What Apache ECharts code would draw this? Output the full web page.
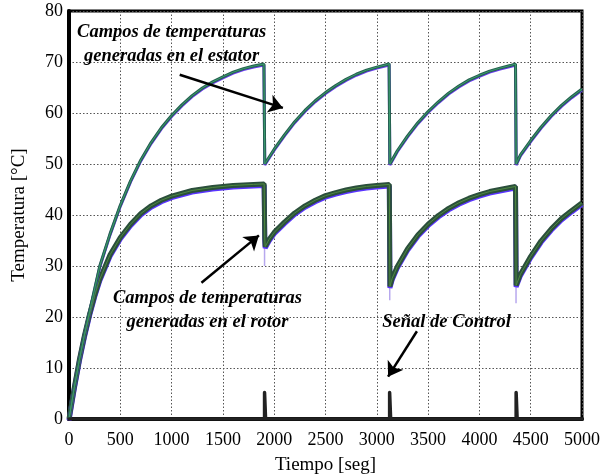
<!DOCTYPE html>
<html>
<head>
<meta charset="utf-8">
<script src="https://cdn.jsdelivr.net/npm/echarts@6/dist/echarts.min.js"></script>
<style>
html,body{margin:0;padding:0;background:#fff;}
#chart{width:600px;height:475px;}
</style>
</head>
<body>
<div id="chart"></div>
<script>
// ---- Data ----
const xTicks = [0, 500, 1000, 1500, 2000, 2500, 3000, 3500, 4000, 4500, 5000];
const yTicks = [0, 10, 20, 30, 40, 50, 60, 70, 80];

// Stator temperature (°C) vs time (s)
const statorTime = [0, 50, 100, 150, 200, 300, 400, 500, 600, 700, 800, 900, 1000, 1100, 1200, 1300, 1400, 1500, 1600, 1700, 1800, 1900,
  1908, 1915, 2000, 2100, 2200, 2300, 2400, 2500, 2600, 2700, 2800, 2900, 3000, 3100, 3120,
  3127, 3134, 3200, 3300, 3400, 3500, 3600, 3700, 3800, 3900, 4000, 4100, 4200, 4300, 4352,
  4358, 4364, 4400, 4500, 4600, 4700, 4800, 4900, 5000];
const statorTemp = [0, 6.0, 11.5, 16.5, 21.0, 30.0, 36.3, 41.9, 46.7, 50.8, 54.2, 57.1, 59.5, 61.6, 63.4, 64.9, 66.1, 67.1, 68.0, 68.7, 69.2, 69.6,
  50.0, 50.3, 52.9, 55.7, 58.3, 60.5, 62.4, 64.0, 65.4, 66.6, 67.6, 68.4, 69.0, 69.5, 69.7,
  50.0, 50.3, 52.6, 55.5, 58.1, 60.3, 62.2, 63.9, 65.3, 66.5, 67.4, 68.2, 68.8, 69.3, 69.6,
  50.0, 50.3, 51.8, 54.6, 57.2, 59.5, 61.5, 63.2, 64.7];

// Rotor temperature (°C) vs time (s)
const rotorTime = [0, 50, 100, 150, 200, 250, 300, 400, 500, 600, 700, 800, 900, 1000, 1200, 1400, 1600, 1800, 1902,
  1908, 1912, 1950, 2000, 2100, 2200, 2300, 2400, 2500, 2600, 2700, 2800, 2900, 3000, 3122,
  3128, 3150, 3200, 3300, 3400, 3500, 3600, 3700, 3800, 3900, 4000, 4100, 4200, 4300, 4352,
  4358, 4400, 4500, 4600, 4700, 4800, 4900, 5000];
const rotorTemp = [0, 6.0, 11.5, 16.3, 20.5, 24.2, 27.4, 32.2, 35.6, 38.2, 40.3, 41.8, 42.9, 43.7, 44.8, 45.4, 45.8, 46.0, 46.1,
  35.5, 33.8, 35.2, 36.6, 38.6, 40.4, 41.8, 42.9, 43.8, 44.4, 44.9, 45.3, 45.6, 45.8, 46.0,
  26.0, 27.6, 29.9, 33.4, 36.1, 38.2, 39.9, 41.3, 42.4, 43.3, 44.0, 44.6, 45.0, 45.4, 45.6,
  26.2, 28.4, 31.9, 34.9, 37.3, 39.3, 40.9, 42.4];

// Faint transient spikes at the switching instants (thin traces going below the minima)
const spikeTime = [1906, 1906, null, 3126, 3126, null, 4357, 4357];
const spikeValue = [46.0, 30.0, null, 46.0, 23.3, null, 46.0, 22.7];

// Control signal pulses
const controlTime = [0, 1906, 1906, 1916, 1916, 3125, 3125, 3135, 3135, 4358, 4358, 4368, 4368, 5000];
const controlValue = [0, 0, 5.2, 5.2, 0, 0, 5.2, 5.2, 0, 0, 5.2, 5.2, 0, 0];

// Annotations (data coordinates)
const annotText = ['Campos de temperaturas', 'generadas en el estator', 'Campos de temperaturas', 'generadas en el rotor', 'Señal de Control'];
const annotT = [1000, 1000, 1350, 1350, 3680];
const annotV = [75.9, 71.2, 23.7, 19.0, 19.0];
const arrowFrom = [[1079, 67.5], [1291, 26.7], [3391, 17.2]];
const arrowTo = [[2085, 61.0], [1851, 36.0], [3110, 8.3]];

// ---- Chart ----
const pairs = (xs, ys) => xs.map((x, i) => (x === null ? '-' : [x, ys[i]]));
const FONT = '"Liberation Serif", "Times New Roman", serif';

const chart = echarts.init(document.getElementById('chart'), null, {renderer: 'canvas'});
const option = {
  animation: false,
  backgroundColor: '#fff',
  grid: {left: 69, right: 18, top: 11, bottom: 56, containLabel: false, outerBoundsMode: 'none',
    show: true, borderColor: '#000', borderWidth: 3, backgroundColor: 'transparent'},
  xAxis: {
    type: 'value', min: xTicks[0], max: xTicks[xTicks.length - 1], interval: xTicks[1] - xTicks[0],
    name: 'Tiempo [seg]', nameLocation: 'middle', nameGap: 37,
    nameTextStyle: {fontFamily: FONT, fontSize: 19, color: '#000'},
    axisLine: {show: true, onZero: false, lineStyle: {color: '#000', width: 4}},
    axisTick: {show: false},
    axisLabel: {fontFamily: FONT, fontSize: 18, color: '#000', margin: 12, formatter: v => String(v)},
    splitLine: {show: true, lineStyle: {type: [1.5, 2], color: '#555', width: 1}}
  },
  yAxis: {
    type: 'value', min: yTicks[0], max: yTicks[yTicks.length - 1], interval: yTicks[1] - yTicks[0],
    name: 'Temperatura [°C]', nameLocation: 'middle', nameGap: 40,
    nameTextStyle: {fontFamily: FONT, fontSize: 19, color: '#000'},
    axisLine: {show: true, onZero: false, lineStyle: {color: '#000', width: 4}},
    axisTick: {show: false},
    axisLabel: {fontFamily: FONT, fontSize: 18, color: '#000', margin: 6, formatter: v => String(v)},
    splitLine: {show: true, lineStyle: {type: [1.5, 2], color: '#555', width: 1}}
  },
  series: [
    {
      name: 'spikes', type: 'line', data: pairs(spikeTime, spikeValue), showSymbol: false, symbol: 'none',
      connectNulls: false, lineStyle: {color: '#b7a8ee', width: 1.5}, z: 2, silent: true
    },
    {
      name: 'rotor', type: 'line', data: pairs(rotorTime, rotorTemp), showSymbol: false, symbol: 'none',
      lineStyle: {color: '#2b4f3c', width: 5, shadowColor: '#5a34ff', shadowBlur: 0, shadowOffsetY: 1.5},
      z: 3, silent: true
    },
    {
      name: 'rotorHi', type: 'line', data: pairs(rotorTime, rotorTemp), showSymbol: false, symbol: 'none',
      lineStyle: {color: '#4f8a3f', width: 1}, z: 4, silent: true
    },
    {
      name: 'stator', type: 'line', data: pairs(statorTime, statorTemp), showSymbol: false, symbol: 'none',
      lineStyle: {color: '#25614f', width: 3, shadowColor: '#6a3cf0', shadowBlur: 0, shadowOffsetY: 1},
      z: 3, silent: true
    },
    {
      name: 'statorHi', type: 'line', data: pairs(statorTime, statorTemp), showSymbol: false, symbol: 'none',
      lineStyle: {color: '#3c9a70', width: 1}, z: 4, silent: true
    },
    {
      name: 'control', type: 'line', data: pairs(controlTime, controlValue), showSymbol: false, symbol: 'none',
      lineStyle: {color: '#222', width: 3.5, join: 'round', cap: 'round'}, z: 5, silent: true,
      markLine: {
        silent: true, animation: false,
        symbol: ['none', 'arrow'], symbolSize: 14,
        label: {show: false},
        lineStyle: {color: '#000', width: 2.5, type: 'solid'},
        emphasis: {disabled: true},
        data: arrowFrom.map((f, i) => [{coord: f}, {coord: arrowTo[i]}])
      }
    }
  ]
};
chart.setOption(option);

const graphics = annotText.map((txt, i) => {
  const p = chart.convertToPixel({gridIndex: 0}, [annotT[i], annotV[i]]);
  return {
    type: 'text', x: p[0], y: p[1], z: 100, silent: true,
    style: {text: txt, font: 'italic bold 18.5px ' + FONT, fill: '#000', align: 'center', verticalAlign: 'middle', textAlign: 'center', textVerticalAlign: 'middle'}
  };
});
chart.setOption({graphic: graphics});
</script>
</body>
</html>
